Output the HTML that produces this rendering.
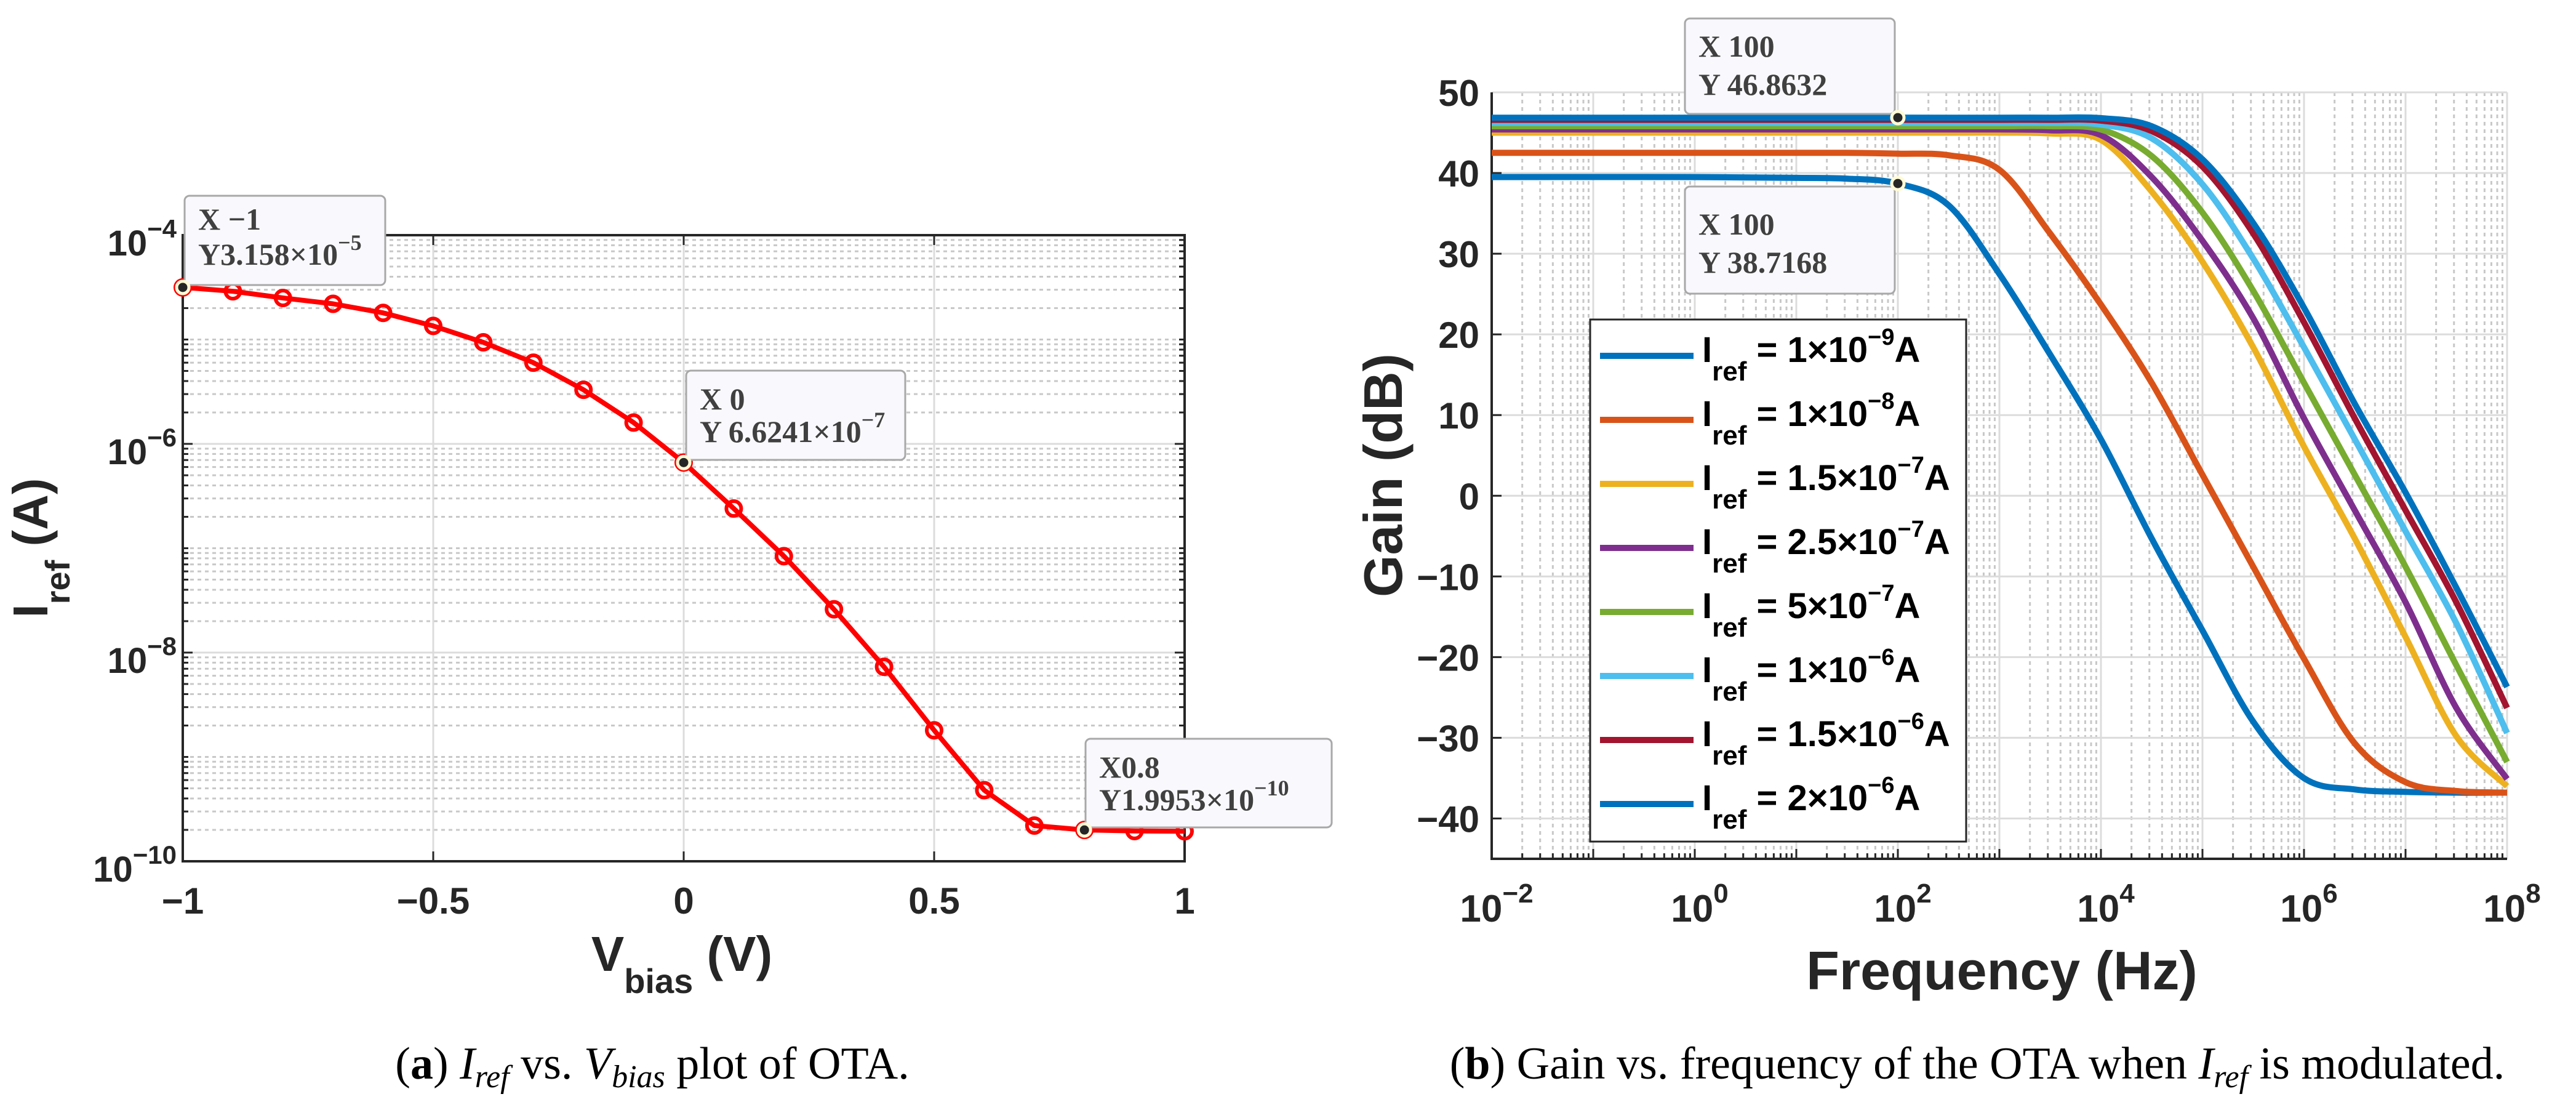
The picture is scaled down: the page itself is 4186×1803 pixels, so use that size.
<!DOCTYPE html>
<html><head><meta charset="utf-8"><style>
html,body{margin:0;padding:0;background:#fff;}
svg{display:block;}
text{font-family:"Liberation Sans",Arial,sans-serif;}
.tk{font-weight:bold;fill:#262626;}
.dt{font-family:"Liberation Serif",serif;font-weight:bold;fill:#404040;font-size:50px;}
.cap{font-family:"Liberation Serif",serif;fill:#000;font-size:74px;}
</style></head><body>
<svg id="svg" width="4186" height="1803" viewBox="0 0 4186 1803" xmlns="http://www.w3.org/2000/svg">
<g id="L"></g>
<g id="R"></g>
</svg>
<script>
// ---- Left chart data ----
const vbias = [-1,-0.9,-0.8,-0.7,-0.6,-0.5,-0.4,-0.3,-0.2,-0.1,0,0.1,0.2,0.3,0.4,0.5,0.6,0.7,0.8,0.9,1];
const iref = [3.158e-5,2.9e-5,2.5e-5,2.2e-5,1.8e-5,1.35e-5,9.4e-6,6.0e-6,3.3e-6,1.6e-6,6.6241e-7,2.4e-7,8.4e-8,2.6e-8,7.3e-9,1.8e-9,4.8e-10,2.2e-10,1.9953e-10,1.95e-10,1.94e-10];
const xTicksL = [-1,-0.5,0,0.5,1];
const xTickLabelsL = ["\u22121","\u22120.5","0","0.5","1"];
const yTickExpL = [-4,-6,-8,-10];
// ---- Right chart data ----
const freqLog = [-2,0,1,1.5,2,2.5,3,3.5,4,4.5,5,5.5,6,6.5,7,7.5,8];
const gain1e9 = [39.5,39.5,39.4,39.3,38.7,36,27.5,17.5,7,-5.3,-16.7,-28,-35,-36.4,-36.7,-36.8,-36.8];
const gain1e8 = [42.5,42.5,42.5,42.5,42.4,42.2,40.4,32.5,23.7,14,2.6,-8.8,-20.2,-30.7,-35.5,-36.6,-36.8];
const gain15e7 = [45,45,45,45,45,45,45,44.9,44.1,37.7,29,18.4,6.1,-5.3,-17.5,-29.8,-36];
const gain25e7 = [45.4,45.4,45.4,45.4,45.4,45.4,45.4,45.3,44.7,39.5,31.6,22,9.6,-1.8,-13.2,-26.3,-35.1];
const gain5e7 = [45.8,45.8,45.8,45.8,45.8,45.8,45.8,45.8,45.4,42.1,35.1,25.4,14,2.6,-8.8,-21,-33];
const gain1e6 = [46.2,46.2,46.2,46.2,46.2,46.2,46.2,46.2,46,44.3,38.6,29.4,18.4,7,-4.4,-15.8,-29.4];
const gain15e6 = [46.6,46.6,46.6,46.6,46.6,46.6,46.6,46.6,46.5,45.2,40.8,32.5,21.5,9.6,-1.8,-13.2,-26.3];
const gain2e6 = [46.86,46.86,46.86,46.86,46.8632,46.86,46.86,46.86,46.8,45.8,41.7,33.8,23.3,11.4,0.4,-11.4,-23.7];
const seriesNames = ["1e-9","1e-8","1.5e-7","2.5e-7","5e-7","1e-6","1.5e-6","2e-6"];
const legendMant = ["1","1","1.5","2.5","5","1","1.5","2"];
const legendExp = ["\u22129","\u22128","\u22127","\u22127","\u22127","\u22126","\u22126","\u22126"];
const yTicksR = [50,40,30,20,10,0,-10,-20,-30,-40];
const xTickExpR = [-2,0,2,4,6,8];

const NS="http://www.w3.org/2000/svg";
function mk(tag, parent, attrs){const e=document.createElementNS(NS,tag);for(const k in attrs)e.setAttribute(k,attrs[k]);parent.appendChild(e);return e;}
function sup(parent,x,y,base,exp,size,supSize,anchor,cls){
  const t=mk('text',parent,{x:x,y:y,'font-size':size,'text-anchor':anchor||'start','class':cls||'tk'});
  const a=document.createElementNS(NS,'tspan');a.textContent=base;t.appendChild(a);
  const b=document.createElementNS(NS,'tspan');b.setAttribute('font-size',supSize);b.setAttribute('dy',-size*0.5);b.textContent=exp;t.appendChild(b);
  return t;
}
const L=document.getElementById('L'), R=document.getElementById('R');

// ===== LEFT =====
const LX0=297,LX1=1925,LY0=382,LY1=1399;
const xL=v=>LX0+(v+1)/2*(LX1-LX0);
const yL=lg=>LY0+(-4-lg)/6*(LY1-LY0);
const gL=mk('g',L,{});


for(let d=-10;d<-4;d++){for(let m=1;m<10;m++){const lg=d+Math.log10(m);if(lg<=-10)continue;const y=yL(lg);
  const major=(m===1&&yTickExpL.includes(d));
  mk('line',gL,{x1:LX0,x2:LX1,y1:y,y2:y,stroke:major?'#dcdcdc':'#c8c8c8','stroke-width':3,'stroke-dasharray':major?'':'6 6'});
  mk('line',gL,{x1:LX0,x2:LX0+(major?16:9),y1:y,y2:y,stroke:'#262626','stroke-width':3});
  mk('line',gL,{x1:LX1,x2:LX1-(major?16:9),y1:y,y2:y,stroke:'#262626','stroke-width':3});
}}
xTicksL.forEach(v=>{const x=xL(v);if(v>-1&&v<1)mk('line',gL,{x1:x,x2:x,y1:LY0,y2:LY1,stroke:'#dcdcdc','stroke-width':3});
  mk('line',gL,{x1:x,x2:x,y1:LY1,y2:LY1-16,stroke:'#262626','stroke-width':3});
  mk('line',gL,{x1:x,x2:x,y1:LY0,y2:LY0+16,stroke:'#262626','stroke-width':3});});
const boxL=mk('rect',L,{x:LX0,y:LY0,width:LX1-LX0,height:LY1-LY0,fill:'none',stroke:'#262626','stroke-width':4});


xTicksL.forEach((v,i)=>{const t=mk('text',L,{x:xL(v),y:1484,'font-size':60,'text-anchor':'middle','class':'tk'});t.textContent=xTickLabelsL[i];
  
  });
yTickExpL.forEach(e=>{const t=sup(L,287,yL(e)+33,'10','\u2212'+(-e),58,42,'end');
  
  });
const dL=vbias.map((v,i)=>(i?'L':'M')+xL(v).toFixed(1)+' '+yL(Math.log10(iref[i])).toFixed(1)).join(' ');
const lineL=mk('path',L,{d:dL,fill:'none',stroke:'#ff0000','stroke-width':8,'stroke-linejoin':'round'});


vbias.forEach((v,i)=>{const c=mk('circle',L,{cx:xL(v),cy:yL(Math.log10(iref[i])),r:12,fill:'none',stroke:'#ff0000','stroke-width':6});
  
  });
const xlabL=mk('text',L,{x:1108,y:1577,'font-size':80,'text-anchor':'middle','class':'tk'});
xlabL.innerHTML='V<tspan font-size="56" dy="36">bias</tspan><tspan dy="-36"> (V)</tspan>';


const ylabL=mk('text',L,{x:0,y:0,'font-size':80,'text-anchor':'middle','class':'tk',transform:'translate(77,890) rotate(-90)'});
ylabL.innerHTML='I<tspan font-size="56" dy="36">ref</tspan><tspan dy="-36"> (A)</tspan>';


function tip(parent,x,y,w,h,l1,l2html,px,py,fs,b1,b2){
  const g=mk('g',parent,{});
  
  
  mk('rect',g,{x:x,y:y,width:w,height:h,rx:8,fill:'#f9f9fd',stroke:'#a8a8a8','stroke-width':3});
  const t1=mk('text',g,{x:x+22,y:y+b1,'class':'dt','font-size':fs});t1.textContent=l1;
  const t2=mk('text',g,{x:x+22,y:y+b2,'class':'dt','font-size':fs});t2.innerHTML=l2html;
  mk('circle',g,{cx:px,cy:py,r:10,fill:'#262626',stroke:'#fffbd6','stroke-width':5});
}
tip(L,300,318,326,145,'X \u22121','Y3.158\u00d710<tspan font-size="36" dy="-24">\u22125</tspan>',xL(vbias[0]),yL(Math.log10(iref[0])),54,55,112);
tip(L,1115,602,356,145,'X 0','Y 6.6241\u00d710<tspan font-size="36" dy="-24">\u22127</tspan>',xL(vbias[10]),yL(Math.log10(iref[10])),54,63,116);
tip(L,1764,1200,400,144,'X0.8','Y1.9953\u00d710<tspan font-size="36" dy="-24">\u221210</tspan>',xL(vbias[18]),yL(Math.log10(iref[18])),54,63,116);
const capA=mk('text',L,{x:1060,y:1752,'text-anchor':'middle','class':'cap'});
capA.innerHTML='(<tspan font-weight="bold">a</tspan>) <tspan font-style="italic">I<tspan font-size="52" dy="14">ref</tspan></tspan><tspan dy="-14"> vs. </tspan><tspan font-style="italic">V<tspan font-size="52" dy="14">bias</tspan></tspan><tspan dy="-14"> plot of OTA.</tspan>';



// ===== RIGHT =====
const RX0=2424,RX1=4074,RY0=150,RY1=1395;
const xR=l=>RX0+(l+2)/10*(RX1-RX0);
const yR=d=>RY0+(50-d)/95*(RY1-RY0);
const gR=mk('g',R,{});


for(let d=-2;d<8;d++){for(let m=2;m<10;m++){const x=xR(d+Math.log10(m));
  mk('line',gR,{x1:x,x2:x,y1:RY0,y2:RY1,stroke:'#c8c8c8','stroke-width':3,'stroke-dasharray':'6 6'});
  mk('line',gR,{x1:x,x2:x,y1:RY1,y2:RY1-9,stroke:'#262626','stroke-width':3});}}
for(let d=-1;d<8;d++){const x=xR(d);mk('line',gR,{x1:x,x2:x,y1:RY0,y2:RY1,stroke:'#dcdcdc','stroke-width':3});
  mk('line',gR,{x1:x,x2:x,y1:RY1,y2:RY1-16,stroke:'#262626','stroke-width':3});}
yTicksR.forEach(v=>{const y=yR(v);mk('line',gR,{x1:RX0,x2:RX1,y1:y,y2:y,stroke:'#dcdcdc','stroke-width':3});
  mk('line',gR,{x1:RX0,x2:RX0+16,y1:y,y2:y,stroke:'#262626','stroke-width':3});
  const t=mk('text',R,{x:2404,y:y+22,'font-size':60,'text-anchor':'end','class':'tk'});t.textContent=(v<0?'\u2212':'')+Math.abs(v);
  
  });
mk('line',R,{x1:RX0,x2:RX1,y1:RY0,y2:RY0,stroke:'#dcdcdc','stroke-width':3});
mk('line',R,{x1:RX1,x2:RX1,y1:RY0,y2:RY1,stroke:'#dcdcdc','stroke-width':3});
mk('path',R,{d:`M${RX0} ${RY0}V${RY1}H${RX1}`,fill:'none',stroke:'#262626','stroke-width':4});
xTickExpR.forEach(e=>{const t=sup(R,xR(e)+8,1497,'10',(e<0?'\u2212':'')+Math.abs(e),62,44,'middle');
  
  });
const colors=['#0072BD','#D95319','#EDB120','#7E2F8E','#77AC30','#4DBEEE','#A2142F','#0072BD'];
const allGains=[gain1e9,gain1e8,gain15e7,gain25e7,gain5e7,gain1e6,gain15e6,gain2e6];
function smooth(pts){let d='M'+pts[0][0].toFixed(1)+' '+pts[0][1].toFixed(1);
  for(let i=0;i<pts.length-1;i++){const p0=pts[Math.max(0,i-1)],p1=pts[i],p2=pts[i+1],p3=pts[Math.min(pts.length-1,i+2)];
    const c1=[p1[0]+(p2[0]-p0[0])/6,p1[1]+(p2[1]-p0[1])/6],c2=[p2[0]-(p3[0]-p1[0])/6,p2[1]-(p3[1]-p1[1])/6];
    d+=` C${c1[0].toFixed(1)} ${c1[1].toFixed(1)} ${c2[0].toFixed(1)} ${c2[1].toFixed(1)} ${p2[0].toFixed(1)} ${p2[1].toFixed(1)}`;}
  return d;}
allGains.forEach((g,i)=>{const pts=freqLog.map((l,j)=>[xR(l),yR(g[j])]);
  const p=mk('path',R,{d:smooth(pts),fill:'none',stroke:colors[i],'stroke-width':10,'stroke-linejoin':'round'});
  
  });
const lg=mk('g',R,{});


mk('rect',lg,{x:2584,y:519,width:611,height:848,fill:'#fff',stroke:'#262626','stroke-width':3});
seriesNames.forEach((n,i)=>{const y=578+i*104;
  const e=mk('g',lg,{});
  
  
  mk('line',e,{x1:2600,x2:2752,y1:y,y2:y,stroke:colors[i],'stroke-width':10});
  const t=mk('text',e,{x:2766,y:y+10,'font-size':58,'font-weight':'bold',fill:'#000'});
  t.innerHTML=`I<tspan font-size="44" dy="30">ref</tspan><tspan dy="-30"> = ${legendMant[i]}\u00d710</tspan><tspan font-size="38" dy="-28">${legendExp[i]}</tspan><tspan dy="28">A</tspan>`;});
tip(R,2738,30,341,155,'X 100','Y 46.8632',xR(2),yR(gain2e6[4]),64,62,124);
tip(R,2738,303,341,174,'X 100','Y 38.7168',xR(2),yR(gain1e9[4]),64,78,140);
const xlabR=mk('text',R,{x:3253,y:1607,'font-size':88,'text-anchor':'middle','class':'tk'});xlabR.textContent='Frequency (Hz)';


const ylabR=mk('text',R,{x:0,y:0,'font-size':88,'text-anchor':'middle','class':'tk',transform:'translate(2278,772) rotate(-90)'});ylabR.textContent='Gain (dB)';


const capB=mk('text',R,{x:3213,y:1752,'text-anchor':'middle','class':'cap'});
capB.innerHTML='(<tspan font-weight="bold">b</tspan>) Gain vs. frequency of the OTA when <tspan font-style="italic">I<tspan font-size="52" dy="14">ref</tspan></tspan><tspan dy="-14"> is modulated.</tspan>';


</script>
</body></html>
